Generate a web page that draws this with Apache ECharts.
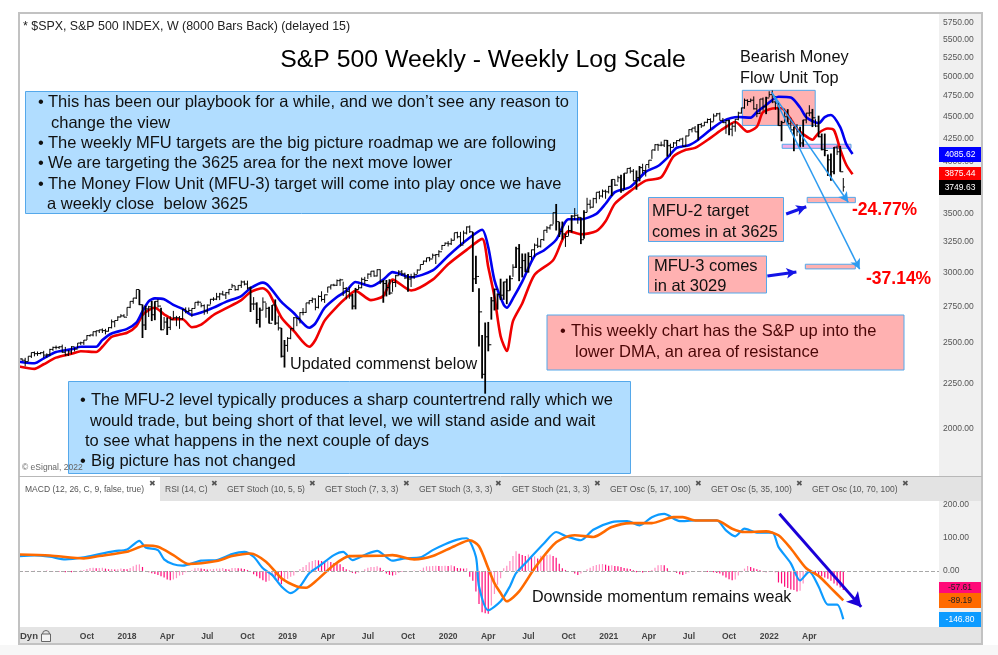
<!DOCTYPE html>
<html>
<head>
<meta charset="utf-8">
<title>S&amp;P 500 Weekly</title>
<script src="https://cdn.jsdelivr.net/npm/echarts@6/dist/echarts.min.js"></script>
<style>
    html, body { margin: 0; padding: 0; background: #fff; }
    #chart { width: 998px; height: 655px; }
</style>
</head>
<body>
<div id="chart"></div>
<script>
// weekly bars, one entry per week from May 2017 to Jun 2022
var weekHigh = [
    2400,2403,2406,2416,2440,2446,2446,2442,2450,2434,2463,2477,2484,2480,2490,2475,2454,2480,2470,2500,2509,2520,2552,2555,2576,2582,2588,2597,2594,2605,2658,2651,2680,2695,2695,
    2743,2787,2811,2873,2870,2763,2754,2754,2789,2787,2802,2741,2675,2672,2680,2718,2683,2682,2732,2743,2742,2736,2779,2791,2774,2764,2764,2804,2816,2848,2848,2863,2853,2877,2916,2900,2906,2941,2940,2940,2895,2817,2779,2741,2815,2775,2747,2760,2800,2685,2600,2520,
    2539,2597,2675,2670,2709,2738,2775,2793,2814,2808,2830,2860,2836,2893,2910,2916,2949,2955,2932,2892,2892,2841,2885,2910,2964,2969,2996,3013,3018,3028,3028,2945,2945,2951,2943,2985,3021,3022,3002,2992,2993,3003,3027,3066,3097,3120,3127,3154,3150,3182,3226,3247,
    3258,3282,3329,3338,3337,3348,3385,3393,3337,3137,2882,2553,2637,2641,2818,2880,2844,2955,2932,2955,2980,3068,3211,3233,3155,3155,3165,3187,3238,3286,3272,3352,3387,3399,3509,3588,3425,3428,3320,3393,3485,3550,3493,3466,3529,3646,3628,3646,3699,3712,3726,3724,3760,
    3826,3823,3861,3870,3887,3937,3950,3929,3914,3960,3983,3969,4020,4129,4191,4195,4219,4238,4236,4197,4214,4234,4249,4262,4286,4356,4372,4393,4415,4429,4442,4480,4482,4537,4545,4549,4486,4465,4466,4429,4475,4559,4608,4718,4708,4718,4744,4652,4713,4731,4740,4808,
    4819,4749,4665,4453,4596,4590,4490,4385,4416,4386,4465,4546,4637,4593,4471,4513,4308,4308,4081,4090,4159,4178,4171,3838
];
var weekLow = [
    2380,2389,2353,2384,2405,2415,2418,2428,2406,2407,2416,2450,2459,2462,2437,2417,2417,2428,2446,2467,2488,2488,2520,2542,2544,2544,2566,2566,2557,2576,2597,2605,2650,2673,2673,
    2682,2737,2769,2803,2759,2533,2586,2675,2647,2653,2741,2585,2594,2553,2586,2660,2612,2594,2655,2701,2707,2676,2734,2755,2743,2691,2698,2764,2789,2795,2795,2830,2803,2835,2884,2864,2867,2885,2904,2874,2710,2724,2628,2603,2722,2670,2631,2649,2621,2583,2408,2346,
    2444,2525,2582,2612,2631,2687,2704,2764,2775,2722,2735,2785,2775,2849,2873,2898,2900,2900,2825,2801,2805,2728,2729,2873,2883,2912,2953,2967,2970,2972,2914,2776,2822,2834,2856,2891,2979,2978,2952,2856,2892,2953,2992,3024,3066,3084,3091,3115,3070,3125,3183,3222,
    3213,3225,3264,3281,3214,3235,3315,3328,2855,2914,2478,2280,2192,2447,2657,2721,2727,2796,2797,2766,2865,2969,3039,2936,2965,3005,3002,3101,3127,3200,3204,3260,3328,3357,3403,3349,3293,3271,3209,3303,3331,3441,3408,3233,3279,3511,3543,3554,3594,3633,3648,3637,3687,
    3663,3759,3797,3694,3725,3885,3885,3806,3723,3805,3884,3853,3936,4034,4118,4119,4168,4160,4056,4061,4156,4168,4220,4165,4165,4280,4321,4328,4233,4372,4395,4425,4347,4446,4507,4457,4427,4305,4288,4278,4329,4459,4537,4595,4630,4672,4585,4495,4532,4572,4531,4733,
    4662,4582,4395,4223,4435,4401,4327,4115,4279,4157,4162,4424,4506,4381,4381,4267,4124,4062,3859,3810,3876,4074,3901,3705
];
var weekClose = [
    2399,2391,2382,2416,2439,2432,2433,2438,2423,2425,2459,2472,2472,2476,2441,2425,2443,2476,2461,2500,2502,2519,2549,2553,2575,2581,2587,2582,2578,2602,2642,2651,2675,2683,2674,
    2743,2786,2810,2873,2762,2620,2732,2747,2691,2786,2752,2588,2640,2604,2656,2670,2670,2663,2728,2713,2721,2735,2779,2780,2755,2718,2759,2801,2802,2819,2840,2833,2850,2874,2901,2872,2904,2930,2914,2885,2767,2767,2658,2723,2781,2736,2632,2760,2633,2600,2416,2485,
    2531,2596,2670,2665,2706,2707,2775,2792,2803,2743,2822,2800,2834,2892,2907,2905,2940,2946,2881,2859,2826,2752,2873,2886,2950,2941,2990,3013,2976,3025,2932,2918,2888,2847,2926,2978,3007,2992,2961,2952,2970,2986,3022,3066,3093,3120,3110,3141,3146,3169,3221,3240,
    3235,3265,3330,3295,3225,3327,3380,3338,2954,2972,2711,2305,2541,2489,2790,2875,2837,2831,2930,2864,2955,3044,3194,3041,3097,3009,3130,3185,3224,3215,3271,3351,3372,3397,3508,3427,3341,3319,3298,3348,3477,3484,3465,3270,3510,3585,3558,3638,3699,3663,3709,3703,3756,
    3824,3768,3841,3714,3887,3935,3907,3811,3842,3943,3913,3975,4020,4129,4185,4180,4181,4233,4174,4156,4204,4230,4247,4166,4281,4352,4370,4327,4411,4395,4436,4468,4441,4509,4535,4458,4432,4455,4357,4391,4471,4544,4605,4697,4682,4698,4594,4538,4712,4620,4725,4766,
    4677,4662,4398,4432,4500,4419,4349,4385,4329,4204,4463,4543,4546,4488,4393,4272,4132,4123,4024,3901,4158,4109,3901,3749.63
];

// [week, value] pairs
var upperBand = [[0,2382],[5,2372],[8,2403],[12,2443],[17,2460],[20,2476],[25,2476],[27,2520],[30,2563],[35,2594],[38,2636],[40,2715],[42,2786],[44,2808],[47,2802],[50,2760],[53,2732],[56,2689],[59,2706],[63,2741],[67,2782],[72,2825],[75,2883],[79,2925],[81,2897],[85,2782],[89,2703],[94,2601],[96,2631],[99,2740],[103,2818],[106,2863],[109,2930],[114,2897],[118,2948],[121,3006],[127,2966],[134,3019],[139,3135],[145,3267],[150,3356],[152,3207],[154,2944],[157,2761],[158,2740],[160,2808],[163,2933],[167,3135],[170,3180],[174,3269],[178,3448],[182,3448],[187,3497],[190,3590],[193,3700],[198,3750],[203,3900],[207,3960],[210,4045],[213,4150],[217,4180],[220,4240],[224,4350],[228,4450],[233,4497],[237,4490],[239,4555],[242,4640],[246,4740],[250,4730],[253,4610],[255,4495],[259,4425],[261,4495],[263,4520],[266,4380],[268,4190],[270,4085.62]];
var lowerBand = [[0,2352],[5,2338],[8,2366],[12,2407],[17,2431],[20,2447],[25,2443],[27,2476],[30,2540],[35,2568],[38,2613],[40,2689],[42,2724],[44,2740],[47,2694],[50,2660],[53,2660],[56,2605],[59,2622],[63,2689],[67,2735],[72,2795],[75,2854],[79,2883],[81,2847],[85,2672],[89,2580],[94,2476],[96,2520],[99,2650],[103,2748],[106,2812],[109,2863],[114,2795],[118,2825],[121,2948],[127,2866],[134,2948],[139,3068],[145,3185],[150,3277],[152,3046],[154,2820],[156,2545],[158,2450],[160,2646],[163,2771],[167,2985],[173,3100],[176,3269],[178,3344],[182,3316],[187,3344],[190,3430],[193,3590],[198,3710],[203,3812],[208,3845],[212,4060],[216,4130],[219,4150],[224,4260],[228,4360],[232,4440],[236,4330],[239,4385],[241,4555],[245,4600],[247,4600],[250,4470],[252,4360],[254,4300],[257,4240],[259,4315],[262,4365],[264,4345],[266,4135],[268,3970],[270,3875.44]];
var macdLine = [[0,45],[5,47],[10,43],[15,35],[21,41],[26,51],[31,60],[35,65],[39,91],[41,71],[45,63],[47,35],[50,20],[53,16],[59,31],[64,33],[69,51],[73,58],[76,43],[79,8],[82,-12],[85,-47],[88,-67],[91,-47],[94,-7],[97,13],[102,48],[105,58],[108,33],[113,53],[116,61],[121,31],[125,38],[130,41],[134,63],[138,81],[142,95],[145,99],[148,43],[149,-47],[152,-119],[156,-92],[159,-47],[161,-7],[165,33],[170,83],[174,118],[177,106],[182,93],[186,125],[192,148],[197,151],[201,138],[205,163],[209,173],[214,151],[219,153],[226,153],[229,123],[232,105],[235,128],[239,116],[244,116],[246,73],[250,23],[253,-29],[256,-2],[259,-47],[262,-102],[265,-102],[267,-146.8]];
var signalLine = [[0,50],[10,47],[21,38],[26,45],[35,58],[41,77],[45,73],[50,48],[55,21],[64,30],[69,45],[75,53],[80,28],[85,-22],[90,-47],[93,-51],[96,-32],[102,18],[107,45],[117,46],[121,48],[128,35],[134,45],[141,75],[146,93],[149,75],[152,8],[154,-37],[156,-67],[158,-92],[162,-62],[167,8],[173,78],[176,98],[180,108],[186,103],[192,133],[198,145],[205,145],[212,163],[215,163],[219,153],[226,153],[231,128],[235,118],[242,120],[246,108],[250,68],[255,8],[259,-15],[263,-52],[267,-89.19]];
var macdHist = [
    1,0,-1,0,-1,1,0,-1,0,1,
    0,-1,-1,-2,-3,-4,-3,-4,-2,-1,
    1,3,6,9,10,8,9,10,7,5,
    6,4,5,7,6,5,9,14,19,20,
    12,-1,-4,-7,-9,-12,-16,-20,-26,-28,
    -26,-22,-14,-12,-4,-2,2,8,9,7,
    6,4,5,6,7,7,9,6,4,9,
    9,8,7,6,3,-2,-10,-16,-22,-28,
    -33,-30,-15,-18,-30,-40,-32,-24,-18,-14,
    -4,6,12,18,26,30,33,32,30,28,
    30,27,24,22,20,12,5,1,-6,-8,
    -5,-3,5,10,12,12,14,10,3,-8,
    -12,-14,-12,-6,-3,-2,-1,-2,1,0,
    3,10,14,14,15,16,15,15,16,15,
    17,14,9,8,7,8,-18,-30,-62,-100,
    -125,-128,-130,-105,-70,-42,-22,8,16,30,
    45,60,52,48,45,50,42,44,38,46,
    45,48,50,45,40,22,8,3,0,-2,
    -8,-12,-8,-2,5,10,15,18,20,21,
    19,16,17,15,14,12,9,7,6,2,
    -4,-3,-5,-2,-3,3,10,17,18,17,
    8,0,-3,-6,-10,-12,-9,-5,-2,-1,
    0,-1,-2,-3,-1,-4,-6,-8,-14,-20,
    -25,-28,-26,-14,-4,7,15,12,8,5,
    2,-2,-4,-3,-1,-4,-35,-38,-48,-52,
    -56,-58,-62,-60,-38,-12,-4,0,-6,-12,
    -16,-20,-24,-30,-38,-44,-50,-57.61
];

var timeTickWeeks = [22,35,48,61,74,87,100,113,126,139,152,165,178,191,204,217,230,243,256];
var timeTickLabels = ['Oct','2018','Apr','Jul','Oct','2019','Apr','Jul','Oct','2020','Apr','Jul','Oct','2021','Apr','Jul','Oct','2022','Apr'];
var priceTicks = [2000,2250,2500,2750,3000,3250,3500,3750,4000,4250,4500,4750,5000,5250,5500,5750];
var macdTicks = [200,100,0];

var tabLabels = ['MACD (12, 26, C, 9, false, true)','RSI (14, C)','GET Stoch (10, 5, 5)','GET Stoch (7, 3, 3)','GET Stoch (3, 3, 3)','GET Stoch (21, 3, 3)','GET Osc (5, 17, 100)','GET Osc (5, 35, 100)','GET Osc (10, 70, 100)'];
var tabLabelX = [25,165,227,325,419,512,610,711,812];
var tabCloseX = [152,214,312,406,498,597,698,799,905];

var FONT = '"Liberation Sans", Arial, sans-serif';
var BOX_BORDER = '#55a8ea';
var BLUE_BOX = '#b1ddff';
var PINK_BOX = '#ffb1b1';
var NOTE_SIZE = 16.5;

function rect(x, y, w, h, fill, stroke, z) {
    return {
        type: 'rect', silent: true, z: z === undefined ? 1 : z,
        shape: { x: x, y: y, width: w, height: h },
        style: { fill: fill, stroke: stroke || null, lineWidth: stroke ? 1 : 0 }
    };
}

function text(str, x, y, size, color, weight, align) {
    return {
        type: 'text', silent: true, z: 1, x: x, y: y,
        style: {
            text: str, fill: color || '#111',
            font: (weight || 'normal') + ' ' + size + 'px ' + FONT,
            align: align || 'left', verticalAlign: 'middle'
        }
    };
}

function tag(y, h, fill, label, color) {
    var t = text(label, 960, y + h / 2, 8.5, color, 'normal', 'center');
    t.z = 4;
    return [rect(939, y, 42, h, fill, null, 3), t];
}

var graphics = [
    rect(0, 645, 998, 10, '#f7f7f7', null, -2),
    rect(939, 14, 43, 630, '#f0f0f0', null, -1),
    rect(19, 477, 963, 24, '#e3e3e3', null, -1),
    rect(19, 477, 141, 24, '#ffffff', null, -1),
    rect(19, 627, 963, 17, '#e4e4e4', null, -1),
    text('* $SPX, S&P 500 INDEX, W (8000 Bars Back) (delayed 15)', 23, 27, 12.4, '#222'),
    text('S&P 500 Weekly - Weekly Log Scale', 483, 60, 24.8, '#000', 'normal', 'center'),
    text('Bearish Money', 740, 58, 16.3),
    text('Flow Unit Top', 740, 79, 16.3),
    text('Updated commenst below', 290, 365, 16.2),

    rect(25.5, 91.5, 552, 122, BLUE_BOX, BOX_BORDER),
    text('•', 38, 102, NOTE_SIZE), text('This has been our playbook for a while, and we don’t see any reason to', 48, 102, NOTE_SIZE),
    text('change the view', 51, 123, NOTE_SIZE),
    text('•', 38, 143, NOTE_SIZE), text('The weekly MFU targets are the big picture roadmap we are following', 48, 143, NOTE_SIZE),
    text('•', 38, 163, NOTE_SIZE), text('We are targeting the 3625 area for the next move lower', 48, 163, NOTE_SIZE),
    text('•', 38, 184, NOTE_SIZE), text('The Money Flow Unit (MFU-3) target will come into play once we have', 48, 184, NOTE_SIZE),
    text('a weekly close  below 3625', 47, 204, NOTE_SIZE),

    rect(68.5, 381.5, 562, 92, BLUE_BOX, BOX_BORDER),
    text('•', 80, 400, NOTE_SIZE), text('The MFU-2 level typically produces a sharp countertrend rally which we', 91, 400, NOTE_SIZE),
    text('would trade, but being short of that level, we will stand aside and wait', 90, 421, NOTE_SIZE),
    text('to see what happens in the next couple of days', 85, 441, NOTE_SIZE),
    text('•', 80, 461, NOTE_SIZE), text('Big picture has not changed', 91, 461, NOTE_SIZE),
    text('© eSignal, 2022', 22, 468, 8.5, '#666'),

    rect(547, 315, 357, 55, PINK_BOX, BOX_BORDER),
    text('•', 560, 331, NOTE_SIZE, '#4a0606'), text('This weekly chart has the S&P up into the', 571, 331, NOTE_SIZE, '#4a0606'),
    text('lower DMA, an area of resistance', 575, 352, NOTE_SIZE, '#4a0606'),

    rect(648.5, 197.5, 135, 44, PINK_BOX, BOX_BORDER),
    text('MFU-2 target', 652, 211, NOTE_SIZE), text('comes in at 3625', 652, 232, NOTE_SIZE),
    rect(648.5, 256, 118, 37, PINK_BOX, BOX_BORDER),
    text('MFU-3 comes', 654, 266, NOTE_SIZE), text('in at 3029', 654, 286, NOTE_SIZE),

    text('-24.77%', 852, 210, 17.5, '#ff0000', 'bold'),
    text('-37.14%', 866, 279, 17.5, '#ff0000', 'bold'),
    text('Downside momentum remains weak', 532, 598, 16.1),
    text('Dyn', 20, 636, 9.5, '#444', 'bold'),
    { type: 'rect', silent: true, z: 1, shape: { x: 41.5, y: 634, width: 9, height: 7.5 }, style: { fill: '#f4f4f4', stroke: '#666', lineWidth: 1 } },
    { type: 'arc', silent: true, z: 1, shape: { cx: 46, cy: 634, r: 3.5, startAngle: Math.PI, endAngle: 0 }, style: { fill: null, stroke: '#666', lineWidth: 1 } },

    { type: 'rect', silent: true, z: 6, shape: { x: 19, y: 13, width: 963, height: 631 }, style: { fill: null, stroke: '#c2c2c2', lineWidth: 2 } },
    { type: 'line', silent: true, z: 6, shape: { x1: 19, y1: 476.5, x2: 982, y2: 476.5 }, style: { stroke: '#b8b8b8', lineWidth: 1 } }
]
    .concat(tag(147, 15, '#0000ff', '4085.62', '#fff'))
    .concat(tag(167, 13, '#ff0000', '3875.44', '#fff'))
    .concat(tag(180, 15, '#000000', '3749.63', '#fff'))
    .concat(tag(582, 11, '#ff0a78', '-57.61', '#222'))
    .concat(tag(593, 15, '#ff6a00', '-89.19', '#222'))
    .concat(tag(612, 15, '#0d9bff', '-146.80', '#fff'));

tabLabels.forEach(function (label, i) {
    graphics.push(text(label, tabLabelX[i], 490, 8.5, '#555'));
    graphics.push(text('✖', tabCloseX[i], 484, 8, '#555', 'normal', 'center'));
});

// open taken as the prior week's close, wide weeks get a heavier stroke
function renderBar(params, api) {
    var i = params.dataIndex;
    var x = api.value(0);
    var hi = api.coord([x, api.value(1)]);
    var lo = api.coord([x, api.value(2)]);
    var cl = api.coord([x, api.value(3)]);
    var op = api.coord([x, i > 0 ? weekClose[i - 1] : api.value(3)]);
    var wide = api.value(1) / api.value(2) > 1.04;
    var style = { stroke: '#000', lineWidth: wide ? 1.8 : 1, fill: null };
    var tickStyle = { stroke: '#000', lineWidth: 1, fill: null };
    return {
        type: 'group',
        children: [
            { type: 'line', shape: { x1: hi[0], y1: hi[1], x2: lo[0], y2: lo[1] }, style: style },
            { type: 'line', shape: { x1: hi[0], y1: cl[1], x2: hi[0] + 1.6, y2: cl[1] }, style: tickStyle },
            { type: 'line', shape: { x1: hi[0] - 1.6, y1: op[1], x2: hi[0], y2: op[1] }, style: tickStyle }
        ]
    };
}

var barData = weekHigh.map(function (h, i) {
    return [i, h, weekLow[i], weekClose[i]];
});
var histData = macdHist.map(function (v, i) {
    return {
        value: [i, v],
        itemStyle: { color: i > 0 && v >= macdHist[i - 1] ? '#ff8fc2' : '#ff0a78' }
    };
});

function arrow(from, to, color, width) {
    return [
        { coord: from, lineStyle: { color: color, width: width, type: 'solid' } },
        { coord: to }
    ];
}

var option = {
    animation: false,
    backgroundColor: '#ffffff',
    textStyle: { fontFamily: FONT },
    graphic: { elements: graphics },
    grid: [
        { left: 19, top: 14, width: 920, height: 462 },
        { left: 19, top: 501, width: 920, height: 126 }
    ],
    xAxis: [
        { type: 'value', gridIndex: 0, min: 0, max: 298, show: false },
        {
            type: 'value', gridIndex: 1, min: 0, max: 298,
            splitLine: { show: false },
            axisLine: { show: false },
            axisTick: { show: false },
            axisLabel: {
                customValues: timeTickWeeks,
                margin: 5,
                color: '#444',
                fontSize: 8.5,
                fontWeight: 'bold',
                formatter: function (v) {
                    return timeTickLabels[timeTickWeeks.indexOf(v)];
                }
            }
        }
    ],
    yAxis: [
        {
            type: 'log', gridIndex: 0, position: 'right', min: 1770, max: 5877,
            splitLine: { show: false },
            axisLine: { show: false },
            axisTick: { show: false },
            axisLabel: {
                customValues: priceTicks,
                margin: 4,
                color: '#555',
                fontSize: 8.5,
                formatter: function (v) { return v.toFixed(2); }
            }
        },
        {
            type: 'value', gridIndex: 1, position: 'right', min: -170, max: 212,
            splitLine: { show: false },
            axisLine: { show: false },
            axisTick: { show: false },
            axisLabel: {
                customValues: macdTicks,
                margin: 4,
                color: '#555',
                fontSize: 8.5,
                formatter: function (v) { return v.toFixed(2); }
            }
        }
    ],
    series: [
        {
            name: 'Lower band', type: 'line', xAxisIndex: 0, yAxisIndex: 0, z: 3,
            data: lowerBand, smooth: 0.25, showSymbol: false,
            lineStyle: { color: '#f00000', width: 2.6 },
            markArea: {
                silent: true, z: 1,
                data: [
                    [{ coord: [234.3, 4820], itemStyle: { color: PINK_BOX, borderColor: BOX_BORDER, borderWidth: 1 } }, { coord: [257.9, 4400] }],
                    [{ coord: [247.2, 4190], itemStyle: { color: '#f2aee6', borderColor: BOX_BORDER, borderWidth: 1 } }, { coord: [269.5, 4146] }],
                    [{ coord: [255.3, 3650], itemStyle: { color: PINK_BOX, borderColor: BOX_BORDER, borderWidth: 1 } }, { coord: [270.9, 3600] }],
                    [{ coord: [254.7, 3068], itemStyle: { color: PINK_BOX, borderColor: BOX_BORDER, borderWidth: 1 } }, { coord: [270.9, 3031] }]
                ]
            }
        },
        {
            name: 'Upper band', type: 'line', xAxisIndex: 0, yAxisIndex: 0, z: 3,
            data: upperBand, smooth: 0.25, showSymbol: false,
            lineStyle: { color: '#0000f0', width: 2.6 }
        },
        {
            name: '$SPX', type: 'custom', xAxisIndex: 0, yAxisIndex: 0, z: 4,
            data: barData, renderItem: renderBar, encode: { x: 0, y: [1, 2] }, clip: true,
            markLine: {
                silent: true, animation: false, symbol: ['none', 'arrow'], symbolSize: [8, 10],
                label: { show: false },
                data: [
                    arrow([243.7, 4800], [268.6, 3604], '#2d9bf0', 1.5),
                    arrow([244, 4780], [272.3, 3029], '#2d9bf0', 1.5),
                    arrow([248.5, 3496], [255, 3562], '#1414e6', 3),
                    arrow([242.4, 2976], [251.8, 3007], '#1414e6', 3)
                ]
            }
        },
        {
            name: 'MACD hist', type: 'bar', xAxisIndex: 1, yAxisIndex: 1, z: 2,
            data: histData, barWidth: 1.2,
            markLine: {
                silent: true, animation: false, symbol: 'none',
                label: { show: false },
                lineStyle: { color: '#a8a8a8', type: 'dashed', width: 1 },
                data: [{ yAxis: 0 }]
            }
        },
        {
            name: 'MACD', type: 'line', xAxisIndex: 1, yAxisIndex: 1, z: 3,
            data: macdLine, smooth: 0.25, showSymbol: false,
            lineStyle: { color: '#0d9bff', width: 2.2 }
        },
        {
            name: 'Signal', type: 'line', xAxisIndex: 1, yAxisIndex: 1, z: 4,
            data: signalLine, smooth: 0.25, showSymbol: false,
            lineStyle: { color: '#ff6a00', width: 2.6 },
            markLine: {
                silent: true, animation: false, symbol: ['none', 'arrow'], symbolSize: [12, 14],
                label: { show: false },
                data: [arrow([246.3, 173], [272.8, -109], '#1a00d8', 3)]
            }
        }
    ]
};

var myChart = echarts.init(document.getElementById('chart'));
myChart.setOption(option);
</script>
</body>
</html>
